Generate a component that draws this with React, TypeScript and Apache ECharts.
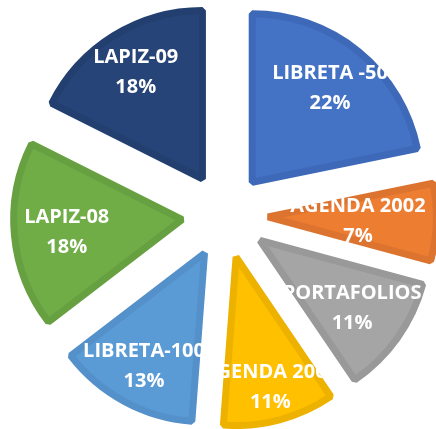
import React, { useEffect, useRef } from "react";
import * as echarts from "echarts";

const categories = [
  "LIBRETA -50",
  "AGENDA 2002",
  "PORTAFOLIOS",
  "AGENDA 2001",
  "LIBRETA-100",
  "LAPIZ-08",
  "LAPIZ-09",
];
// shares (labels round to 22, 7, 11, 11, 13, 18, 18 %)
const values = [21.8, 7.4, 11.3, 10.7, 13.4, 17.8, 17.6];

const fillColors = ["#4472C4", "#ED7D31", "#A5A5A5", "#FFC000", "#5B9BD5", "#70AD47", "#264478"];
const borderColors = ["#3E69B8", "#DC7430", "#999999", "#EDB200", "#5490C9", "#66A040", "#233F70"];
// label distance from each slice's tip (layout tweak, in px)
const labelDistance = [120, 87, 110, 130, 124, 113, 124];

const BORDER = 7;
const RADIUS = 172 - BORDER / 2;
const OFFSET = 43;

export default function App() {
  const ref = useRef<HTMLDivElement>(null);
  useEffect(() => {
    const chart = echarts.init(ref.current!, null, { renderer: "svg" });
    const total = values.reduce((a, b) => a + b, 0);
    const mids: number[] = [];
    let acc = 0;
    values.forEach((v) => {
      mids.push(((acc + v / 2) / total) * 2 * Math.PI);
      acc += v;
    });
    chart.setOption({
      animation: false,
      series: [
        {
          type: "pie",
          center: [225, 215.5],
          radius: [0, RADIUS],
          startAngle: 90,
          clockwise: true,
          selectedMode: "multiple",
          selectedOffset: OFFSET,
          percentPrecision: 0,
          avoidLabelOverlap: false,
          emphasis: { disabled: true },
          label: {
            show: true,
            position: "inside",
            formatter: "{b}\n{d}%",
            color: "#ffffff",
            fontFamily: "Open Sans",
            fontWeight: "bold",
            fontSize: 20,
            lineHeight: 30,
          },
          labelLine: { show: false },
          labelLayout: (params: any) => {
            const i = params.dataIndex;
            const extra = labelDistance[i] - RADIUS / 2;
            return { dx: extra * Math.sin(mids[i]), dy: -extra * Math.cos(mids[i]) };
          },
          data: categories.map((name, i) => ({
            name,
            value: values[i],
            selected: true,
            itemStyle: {
              color: fillColors[i],
              borderColor: borderColors[i],
              borderWidth: BORDER,
              borderJoin: "bevel",
            },
          })),
        },
      ],
    });
    return () => chart.dispose();
  }, []);
  return (
    <div
      ref={ref}
      style={{ position: "fixed", left: 0, top: 0, width: 436, height: 429 }}
    />
  );
}
